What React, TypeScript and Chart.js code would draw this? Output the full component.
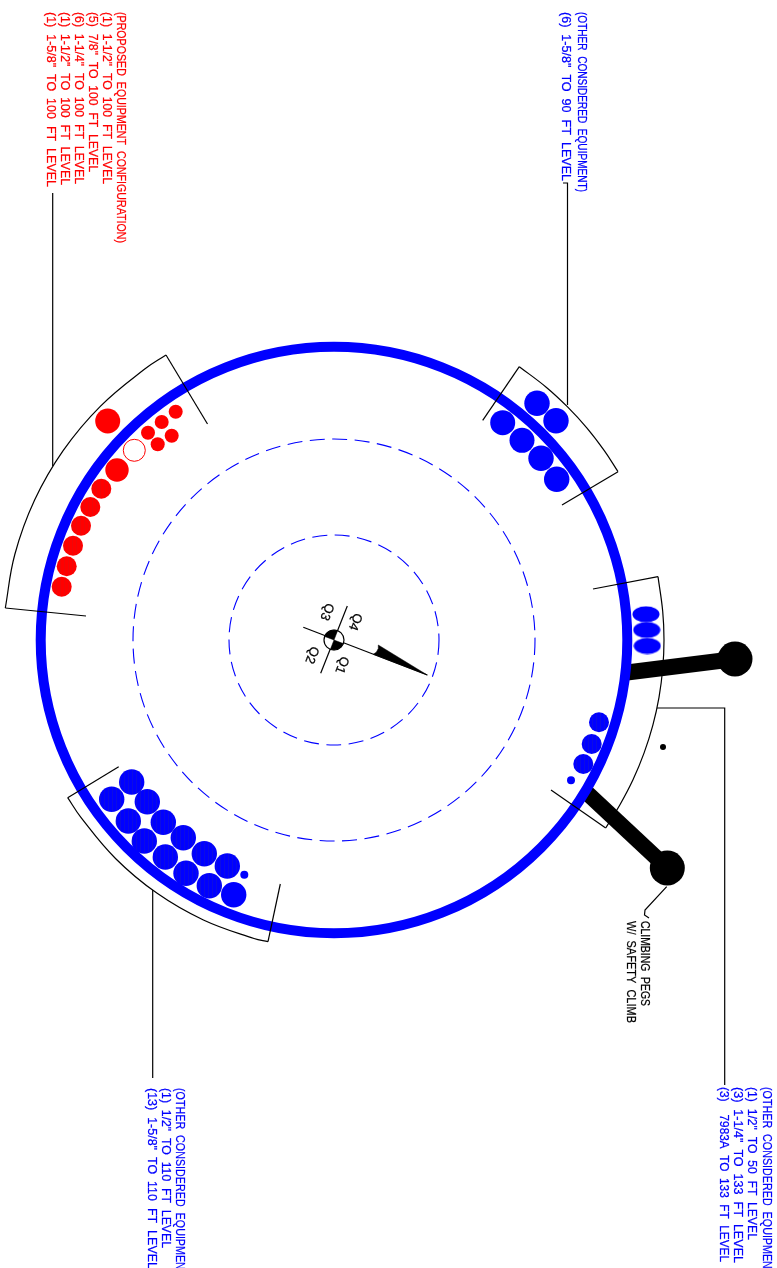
import React, { useEffect, useRef } from "react";
import { Chart, registerables } from "chart.js";

Chart.register(...registerables);

type P = { x: number; y: number };
type B = P & { r: number };

// ---- circular outlines
const shell: B[] = [{ x: 334, y: 640, r: 293.3 }];
const dashedRings: B[] = [
  { x: 334, y: 640, r: 201 },
  { x: 334, y: 640, r: 105 },
];

// ---- equipment
const redSolid: B[] = [
  { x: 107.7, y: 421, r: 12.5 },
  { x: 175.7, y: 411.7, r: 7 },
  { x: 161.7, y: 422, r: 7 },
  { x: 148, y: 432.7, r: 7 },
  { x: 171.7, y: 435.7, r: 7 },
  { x: 157.7, y: 444.3, r: 7 },
  { x: 117, y: 470, r: 11.7 },
];
const redHatched: B[] = [
  { x: 101.3, y: 488.7, r: 10 },
  { x: 90.3, y: 507, r: 10 },
  { x: 81, y: 525.7, r: 10 },
  { x: 73, y: 545.7, r: 10 },
  { x: 66.7, y: 566.3, r: 10 },
  { x: 61.7, y: 586.7, r: 10 },
];
const redHollow: B[] = [{ x: 134.3, y: 450.3, r: 11 }];

const blueSolid: B[] = [
  { x: 537, y: 403.3, r: 12.7 },
  { x: 556, y: 420.7, r: 12.7 },
  { x: 502.7, y: 422.7, r: 12.5 },
  { x: 522, y: 440.3, r: 12.5 },
  { x: 541, y: 458.3, r: 12.7 },
  { x: 556.7, y: 479.3, r: 12.7 },
  { x: 233.7, y: 894.7, r: 12.7 },
  { x: 571, y: 780.3, r: 4 },
  { x: 244.3, y: 874.7, r: 4 },
];
const blueHatched: B[] = [
  { x: 599, y: 722.3, r: 10 },
  { x: 591.7, y: 744, r: 10 },
  { x: 583.3, y: 764, r: 10 },
  { x: 131.7, y: 782, r: 12.7 },
  { x: 111.7, y: 799.3, r: 12.7 },
  { x: 147.3, y: 801.7, r: 12.7 },
  { x: 128.3, y: 821, r: 12.7 },
  { x: 163.3, y: 822.3, r: 12.7 },
  { x: 144.3, y: 841, r: 12.7 },
  { x: 183.3, y: 837.7, r: 12.7 },
  { x: 165.3, y: 857, r: 12.7 },
  { x: 204.3, y: 853.7, r: 12.7 },
  { x: 186, y: 873.3, r: 12.7 },
  { x: 227.3, y: 866, r: 12.7 },
  { x: 209.3, y: 885.7, r: 12.7 },
];
const blueOval: P[] = [
  { x: 646, y: 614.3 },
  { x: 646.7, y: 630 },
  { x: 647.3, y: 646 },
];

// ---- climbing pegs
const pegHeads: B[] = [
  { x: 735, y: 659, r: 17.5 },
  { x: 667.3, y: 868, r: 17.5 },
];
const pegUpper: P[] = [{ x: 627, y: 672.5 }, { x: 735, y: 659 }];
const pegLower: P[] = [{ x: 586, y: 792 }, { x: 667.3, y: 868 }];
const markerDot: B[] = [{ x: 663, y: 747, r: 3 }];

// ---- sector outlines: the curved edge, then its two straight ends
const sectorRedArc: P[] = [
  { x: 5.3, y: 608 }, { x: 14.8, y: 554.5 }, { x: 34.5, y: 500.3 }, { x: 63.3, y: 450.4 },
  { x: 100.3, y: 406.3 }, { x: 144.4, y: 369.3 }, { x: 166, y: 355 },
];
const sectorRedEnds: P[][] = [
  [{ x: 86, y: 616 }, { x: 5.3, y: 608 }],
  [{ x: 166, y: 355 }, { x: 207.5, y: 424 }],
];
const sectorTopArc: P[] = [
  { x: 519.3, y: 366.7 }, { x: 546.2, y: 387.2 }, { x: 567.3, y: 406.7 },
  { x: 586.8, y: 427.9 }, { x: 604.3, y: 450.7 }, { x: 618, y: 471.7 },
];
const sectorTopEnds: P[][] = [
  [{ x: 482.7, y: 420.3 }, { x: 519.3, y: 366.7 }],
  [{ x: 618, y: 471.7 }, { x: 562, y: 505 }],
];
const sectorRightArc: P[] = [
  { x: 658, y: 576.7 }, { x: 662.7, y: 611.2 }, { x: 664, y: 640 }, { x: 662.7, y: 668.8 }, { x: 659, y: 697.3 },
  { x: 652.8, y: 725.4 }, { x: 644.1, y: 752.9 }, { x: 633.1, y: 779.5 }, { x: 619.8, y: 805 }, { x: 605.7, y: 828 },
];
const sectorRightEnds: P[][] = [
  [{ x: 593, y: 589 }, { x: 658, y: 576.7 }],
  [{ x: 605.7, y: 828 }, { x: 551, y: 790 }],
];
const sectorLeftArc: P[] = [
  { x: 67.7, y: 797.7 }, { x: 80.9, y: 817.4 }, { x: 115.5, y: 858.5 }, { x: 156.8, y: 893.1 },
  { x: 203.4, y: 920 }, { x: 254, y: 938.5 }, { x: 268, y: 941.7 },
];
const sectorLeftEnds: P[][] = [
  [{ x: 118.7, y: 766.7 }, { x: 67.7, y: 797.7 }],
  [{ x: 268, y: 941.7 }, { x: 280.3, y: 884 }],
];

// ---- leaders
const leaderRed: P[] = [{ x: 52.7, y: 193 }, { x: 52.7, y: 466 }];
const leaderTop: P[] = [{ x: 563, y: 183 }, { x: 567.5, y: 183 }, { x: 567.5, y: 405 }];
const leaderRight: P[] = [{ x: 657, y: 708 }, { x: 724.7, y: 708 }, { x: 724.7, y: 1085 }];
const leaderLeft: P[] = [{ x: 152.7, y: 890 }, { x: 152.7, y: 1078 }];
const leaderPeg: P[] = [{ x: 666.7, y: 886.7 }, { x: 645, y: 910 }, { x: 644.5, y: 915 }, { x: 649, y: 918 }];

// ---- north arrow and quadrant symbol
const axisMajor: P[] = [{ x: 303.3, y: 627.3 }, { x: 427.3, y: 675 }];
const axisMinor: P[] = [{ x: 347.3, y: 606 }, { x: 320.7, y: 673.3 }];
const arrowHead: P[] = [
  { x: 378.3, y: 645 }, { x: 427.3, y: 675 }, { x: 373.3, y: 654.3 }, { x: 376.5, y: 652 }, { x: 378, y: 649 }, { x: 378.3, y: 645 },
];
const quadrantHub: B[] = [{ x: 334, y: 640, r: 10 }];
const wedgeTop: P[] = [
  { x: 334, y: 640 }, { x: 324.7, y: 636.4 }, { x: 326.5, y: 633.3 }, { x: 329.9, y: 630.9 }, { x: 334, y: 630 }, { x: 337.6, y: 630.7 }, { x: 334, y: 640 },
];
const wedgeBottom: P[] = [
  { x: 334, y: 640 }, { x: 343.3, y: 643.6 }, { x: 341.5, y: 646.7 }, { x: 338.1, y: 649.1 }, { x: 334, y: 650 }, { x: 330.4, y: 649.3 }, { x: 334, y: 640 },
];

// ---- text
const noteRed = [
  "(PROPOSED  EQUIPMENT  CONFIGURATION)",
  '(1)  1-1/2"  TO  100  FT  LEVEL',
  '(5)  7/8"  TO  100  FT  LEVEL',
  '(6)  1-1/4"  TO  100  FT  LEVEL',
  '(1)  1-1/2"  TO  100  FT  LEVEL',
  '(1)  1-5/8"  TO  100  FT  LEVEL',
];
const noteTop = ["(OTHER  CONSIDERED  EQUIPMENT)", '(6)  1-5/8"  TO  90  FT  LEVEL'];
const noteRight = [
  "(OTHER  CONSIDERED  EQUIPMENT)",
  '(1)  1/2"  TO  50  FT  LEVEL',
  '(3)  1-1/4"  TO  133  FT  LEVEL',
  "(3)    7983A  TO  133  FT  LEVEL",
];
const noteLeft = [
  "(OTHER  CONSIDERED  EQUIPMENT)",
  '(1)  1/2"  TO  110  FT  LEVEL',
  '(13)  1-5/8"  TO  110  FT  LEVEL',
];
const notePeg = ["CLIMBING  PEGS", "W/  SAFETY  CLIMB"];
const quadrantNames = ["Q1", "Q2", "Q3", "Q4"];

const RED = "#ff0000";
const BLUE = "#0000ff";
const BLACK = "#000000";

type T = { text: string; x: number; y: number; len?: number; color: string; angle: number; center?: boolean };

const labels: T[] = [
  { text: noteRed[0], x: 120.7, y: 12, len: 231, color: RED, angle: 90 },
  { text: noteRed[1], x: 106.7, y: 12, len: 172, color: RED, angle: 90 },
  { text: noteRed[2], x: 92.3, y: 12, len: 160, color: RED, angle: 90 },
  { text: noteRed[3], x: 78.3, y: 12, len: 172, color: RED, angle: 90 },
  { text: noteRed[4], x: 64.3, y: 12, len: 173, color: RED, angle: 90 },
  { text: noteRed[5], x: 50.5, y: 12, len: 175, color: RED, angle: 90 },
  { text: noteTop[0], x: 581.7, y: 12, len: 180, color: BLUE, angle: 90 },
  { text: noteTop[1], x: 565.5, y: 12, len: 169, color: BLUE, angle: 90 },
  { text: noteRight[0], x: 766.7, y: 1087, len: 192, color: BLUE, angle: 90 },
  { text: noteRight[1], x: 752, y: 1087, len: 153, color: BLUE, angle: 90 },
  { text: noteRight[2], x: 738, y: 1087, len: 176, color: BLUE, angle: 90 },
  { text: noteRight[3], x: 724, y: 1087, len: 175, color: BLUE, angle: 90 },
  { text: noteLeft[0], x: 180, y: 1088, len: 192, color: BLUE, angle: 90 },
  { text: noteLeft[1], x: 166, y: 1088, len: 160, color: BLUE, angle: 90 },
  { text: noteLeft[2], x: 151.7, y: 1088, len: 181, color: BLUE, angle: 90 },
  { text: notePeg[0], x: 644.5, y: 921, len: 85, color: BLACK, angle: 90 },
  { text: notePeg[1], x: 630.5, y: 921, len: 102, color: BLACK, angle: 90 },
  { text: quadrantNames[0], x: 341.7, y: 665, color: BLACK, angle: 111, center: true },
  { text: quadrantNames[1], x: 311.7, y: 655, color: BLACK, angle: 111, center: true },
  { text: quadrantNames[2], x: 326.7, y: 611.7, color: BLACK, angle: 111, center: true },
  { text: quadrantNames[3], x: 355, y: 621.7, color: BLACK, angle: 111, center: true },
];

const textPlugin = {
  id: "drawingText",
  afterDatasetsDraw(chart: any) {
    const { ctx, scales } = chart;
    for (const t of labels) {
      ctx.save();
      ctx.translate(scales.x.getPixelForValue(t.x), scales.y.getPixelForValue(t.y));
      ctx.rotate((t.angle * Math.PI) / 180);
      ctx.font = '13px "Liberation Sans"';
      ctx.fillStyle = t.color;
      ctx.strokeStyle = t.color;
      ctx.lineWidth = 0.25;
      ctx.textBaseline = "middle";
      ctx.textAlign = t.center ? "center" : "left";
      if (t.len) {
        const w = ctx.measureText(t.text).width;
        ctx.scale(t.len / w, 1);
      }
      ctx.fillText(t.text, 0, 0);
      ctx.strokeText(t.text, 0, 0);
      ctx.restore();
    }
  },
};

const dashPlugin = {
  id: "ringDash",
  beforeDatasetDraw(chart: any, args: any) {
    const d = chart.data.datasets[args.index];
    if (d.ringDash) chart.ctx.setLineDash(d.ringDash);
  },
  afterDatasetDraw(chart: any) {
    chart.ctx.setLineDash([]);
  },
};

function hatch(base: string, stripe: string) {
  const c = document.createElement("canvas");
  c.width = 4;
  c.height = 4;
  const g = c.getContext("2d")!;
  g.fillStyle = base;
  g.fillRect(0, 0, 4, 4);
  g.fillStyle = stripe;
  g.fillRect(0, 0, 1, 4);
  return g.createPattern(c, "repeat")!;
}

function ovalSprite() {
  const c = document.createElement("canvas");
  c.width = 28;
  c.height = 17;
  const g = c.getContext("2d")!;
  g.fillStyle = BLUE;
  g.beginPath();
  g.ellipse(14, 8.5, 13.5, 8, 0, 0, Math.PI * 2);
  g.fill();
  return c;
}

export default function App() {
  const ref = useRef<HTMLCanvasElement>(null);

  useEffect(() => {
    const line = (data: P[], color = BLACK, borderWidth = 1.2) => ({
      type: "line", data, borderColor: color, borderWidth, pointRadius: 0, tension: 0, fill: false, clip: false,
      borderCapStyle: "butt", borderJoinStyle: "miter",
    });
    const arc = (data: P[]) => ({ ...line(data), tension: 0.4 });
    const solid = (data: P[]) => ({
      type: "line", data, borderColor: BLACK, backgroundColor: BLACK, borderWidth: 0.5, pointRadius: 0, tension: 0, fill: "shape", clip: false,
    });
    const bubble = (data: B[], backgroundColor: any, borderColor: any = "rgba(0,0,0,0)", borderWidth = 0, extra: any = {}) => ({
      type: "bubble", data, backgroundColor, borderColor, borderWidth, clip: false, ...extra,
    });

    // The first dataset is painted last, so the list runs from front to back.
    const datasets: any[] = [
      solid(arrowHead),
      solid(wedgeTop),
      solid(wedgeBottom),
      bubble(quadrantHub, "#ffffff", BLACK, 1.2),
      line(axisMajor),
      line(axisMinor),
      arc(sectorRedArc),
      arc(sectorTopArc),
      arc(sectorRightArc),
      arc(sectorLeftArc),
      ...[...sectorRedEnds, ...sectorTopEnds, ...sectorRightEnds, ...sectorLeftEnds].map((s) => line(s)),
      line(leaderRed),
      line(leaderTop),
      line(leaderRight),
      line(leaderLeft),
      line(leaderPeg),
      bubble(shell, "rgba(0,0,0,0)", BLUE, 10),
      bubble(dashedRings, "rgba(0,0,0,0)", BLUE, 1.1, { ringDash: [15, 7.5] }),
      bubble(redSolid, RED),
      bubble(redHatched, hatch(RED, "#ee0808")),
      bubble(redHollow, "#ffffff", RED, 1),
      bubble(blueSolid, BLUE),
      bubble(blueHatched, hatch(BLUE, "#0c0ce4")),
      { type: "scatter", data: blueOval, pointStyle: ovalSprite(), pointRadius: 8, clip: false },
      bubble(pegHeads, BLACK),
      bubble(markerDot, BLACK),
      line(pegUpper, BLACK, 16),
      line(pegLower, BLACK, 16),
    ];

    const chart = new Chart(ref.current!, {
      type: "scatter",
      data: { datasets },
      plugins: [dashPlugin, textPlugin],
      options: {
        responsive: false,
        devicePixelRatio: 1,
        animation: false,
        events: [],
        layout: { padding: 0, autoPadding: false },
        plugins: { legend: { display: false }, tooltip: { enabled: false }, title: { display: false } },
        scales: {
          x: { type: "linear", min: 0, max: 777, display: false },
          y: { type: "linear", min: 0, max: 1268, reverse: true, display: false },
        },
      },
    } as any);
    return () => chart.destroy();
  }, []);

  return (
    <div style={{ position: "absolute", left: 0, top: 0, width: 777, height: 1268, overflow: "hidden", background: "#fff" }}>
      <canvas ref={ref} width={777} height={1268} style={{ display: "block" }} />
    </div>
  );
}
